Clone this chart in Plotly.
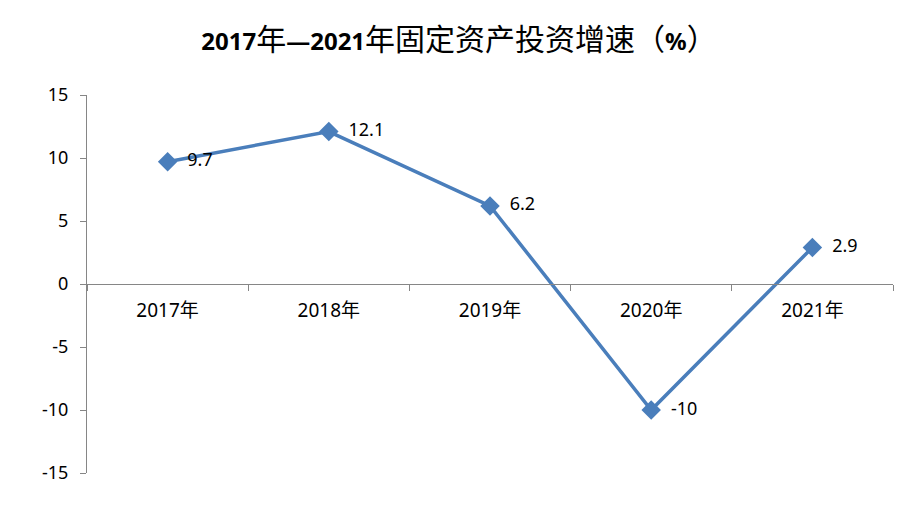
import plotly.graph_objects as go

years = ["2017年", "2018年", "2019年", "2020年", "2021年"]
growth = [9.7, 12.1, 6.2, -10, 2.9]
labels = ["9.7", "12.1", "6.2", "-10", "2.9"]
y_ticks = [-15, -10, -5, 0, 5, 10, 15]
y_tick_text = ["-15", "-10", "-5", "0", "5", "10", "15"]

blue = "#4a7ebb"
axis_grey = "#868686"
font_family = "Noto Sans, Noto Sans CJK SC, sans-serif"


def num(s):
    return '<b><span style="font-size:24px">' + s + "</span></b>"


title_text = (num("2017") + "年" + num("—2021") + "年固定资产投资增速（"
              + num("%") + "）")

fig = go.Figure()
fig.add_trace(go.Scatter(
    x=years, y=growth, mode="lines+markers+text",
    text=["  " + t for t in labels], textposition="middle right",
    textfont=dict(size=18, color="#000000"),
    line=dict(color=blue, width=3.5),
    marker=dict(symbol="diamond", size=15, color=blue),
    cliponaxis=False, showlegend=False,
))

# the page body adds 8px around the figure
fig.update_layout(
    width=902, height=513,
    margin=dict(l=79, r=17, t=87, b=48, autoexpand=False),
    paper_bgcolor="white", plot_bgcolor="white",
    font=dict(family=font_family, size=17, color="#000000"),
    title=dict(
        text=title_text,
        x=0.5, xanchor="center", y=0.938, yanchor="middle",
        font=dict(size=30, family=font_family),
    ),
)
fig.update_xaxes(
    type="category", range=[-0.5, 4.5],
    anchor="free", position=0.5, automargin=False,
    showline=True, linecolor=axis_grey, linewidth=1,
    ticks="outside", tickson="boundaries", ticklen=6, tickcolor=axis_grey,
    ticklabelstandoff=9,
    showgrid=False, zeroline=False,
    tickfont=dict(size=19),
)
fig.update_yaxes(
    range=[-15, 15], tickvals=y_ticks, ticktext=y_tick_text, automargin=False,
    showline=True, linecolor=axis_grey, linewidth=1,
    ticks="outside", ticklen=6, tickcolor=axis_grey,
    ticklabelstandoff=8,
    showgrid=False, zeroline=False,
    tickfont=dict(size=18),
)

fig.write_html("out.html")
